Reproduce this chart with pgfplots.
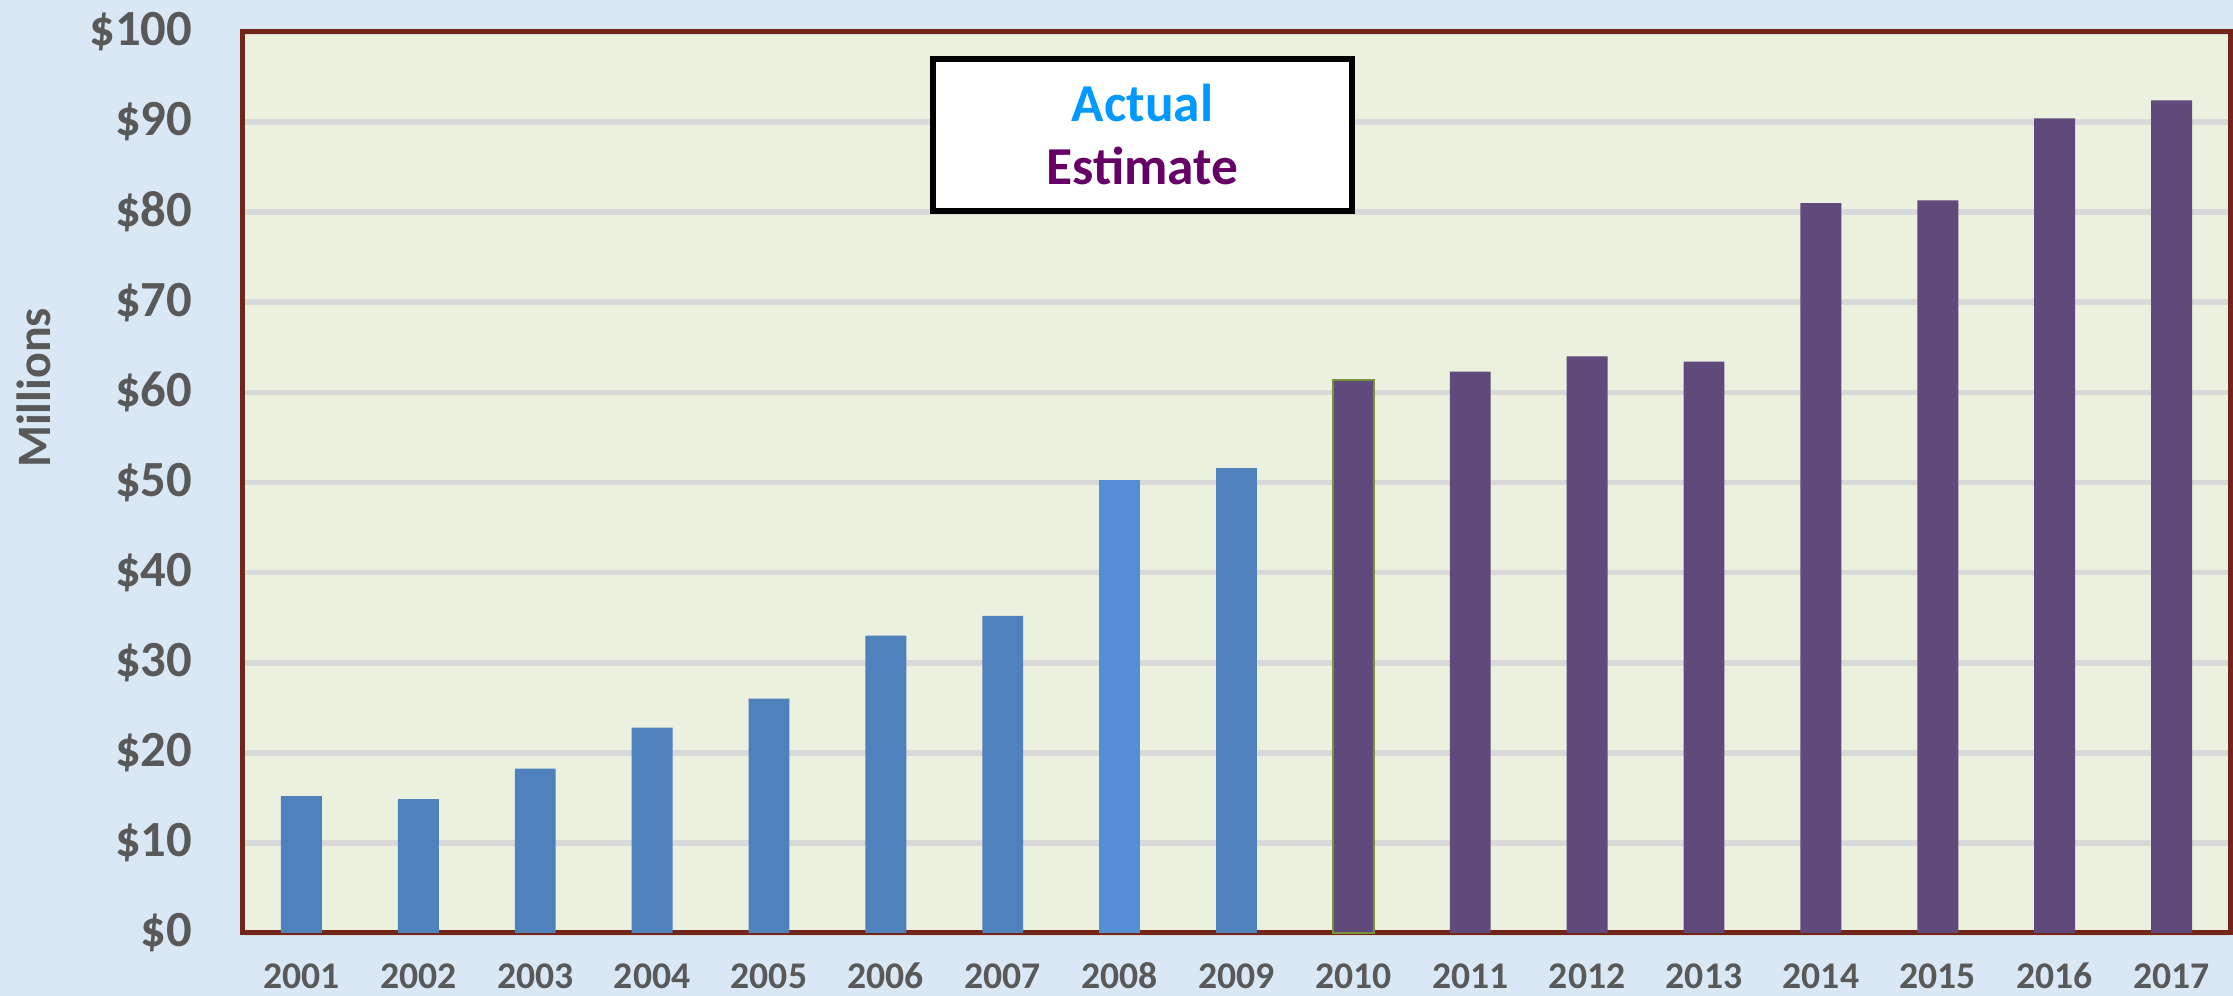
\documentclass[border=0pt]{standalone}
\usepackage{pgfplots}
\pgfplotsset{compat=1.18}
\usepackage{fontspec}
\setmainfont{Carlito}
\definecolor{bgblue}{RGB}{218,232,245}
\definecolor{plotbg}{RGB}{235,241,222}
\definecolor{framec}{RGB}{114,38,26}
\definecolor{gridc}{RGB}{217,217,217}
\definecolor{actualc}{RGB}{79,129,189}
\definecolor{actualeight}{RGB}{85,142,213}
\definecolor{estc}{RGB}{96,74,123}
\definecolor{estedge}{RGB}{119,147,60}
\definecolor{labc}{RGB}{89,89,89}
\definecolor{legblue}{RGB}{0,153,255}
\definecolor{legpurple}{RGB}{102,0,102}
\begin{document}
\begin{tikzpicture}
\fill[bgblue] (-72.9pt,-18.9pt) rectangle (597pt,279.9pt);
\begin{axis}[
  scale only axis, width=596.1pt, height=270.3pt,
  at={(0pt,0pt)}, anchor=south west,
  xmin=-0.5, xmax=16.5, ymin=0, ymax=100,
  ybar, bar width=0.35, /pgf/bar shift=0pt,
  axis background/.style={fill=plotbg},
  axis line style={framec, line width=1.5pt},
  ymajorgrids, grid style={gridc, line width=1.7pt},
  major tick length=0pt,
  xtick={0,1,2,3,4,5,6,7,8,9,10,11,12,13,14,15,16},
  xticklabels={2001,2002,2003,2004,2005,2006,2007,2008,2009,2010,2011,2012,2013,2014,2015,2016,2017},
  ytick={0,10,20,30,40,50,60,70,80,90,100},
  yticklabels={\$0,\$10,\$20,\$30,\$40,\$50,\$60,\$70,\$80,\$90,\$100},
  yticklabel style={font=\fontsize{15.2}{17}\selectfont\bfseries, text=labc, anchor=east, inner sep=0pt, xshift=-15pt},
  xticklabel style={font=\fontsize{11.3}{13}\selectfont\bfseries, text=labc, anchor=base, inner sep=0pt, yshift=-16.8pt},
  clip=false,
]
% Actual
\addplot[fill=actualc, draw=none] coordinates {
  (0,15.2) (1,14.85) (2,18.25) (3,22.8) (4,26.0) (5,33.0) (6,35.2) (8,51.6)
};
\addplot[fill=actualeight, draw=none] coordinates { (7,50.3) };
% Estimate
\addplot[fill=estc, draw=estedge, line width=0.5pt] coordinates { (9,61.4) };
\addplot[fill=estc, draw=none] coordinates {
  (10,62.3) (11,64.0) (12,63.4) (13,81.0) (14,81.3) (15,90.4) (16,92.4)
};
\node[draw=black, line width=1.8pt, fill=white, minimum width=125.7pt, minimum height=45.6pt,
      align=center, font=\fontsize{16}{18.9}\selectfont\bfseries]
  at (rel axis cs:0.4527,0.8857) {\textcolor{legblue}{Actual}\\\textcolor{legpurple}{Estimate}};
\end{axis}
\node[rotate=90, font=\fontsize{14.4}{17}\selectfont\bfseries, text=labc] at (-62.7pt,163.5pt) {Millions};
\pgfresetboundingbox
\useasboundingbox (-72.9pt,-18.9pt) rectangle (597pt,279.9pt);
\end{tikzpicture}
\end{document}
